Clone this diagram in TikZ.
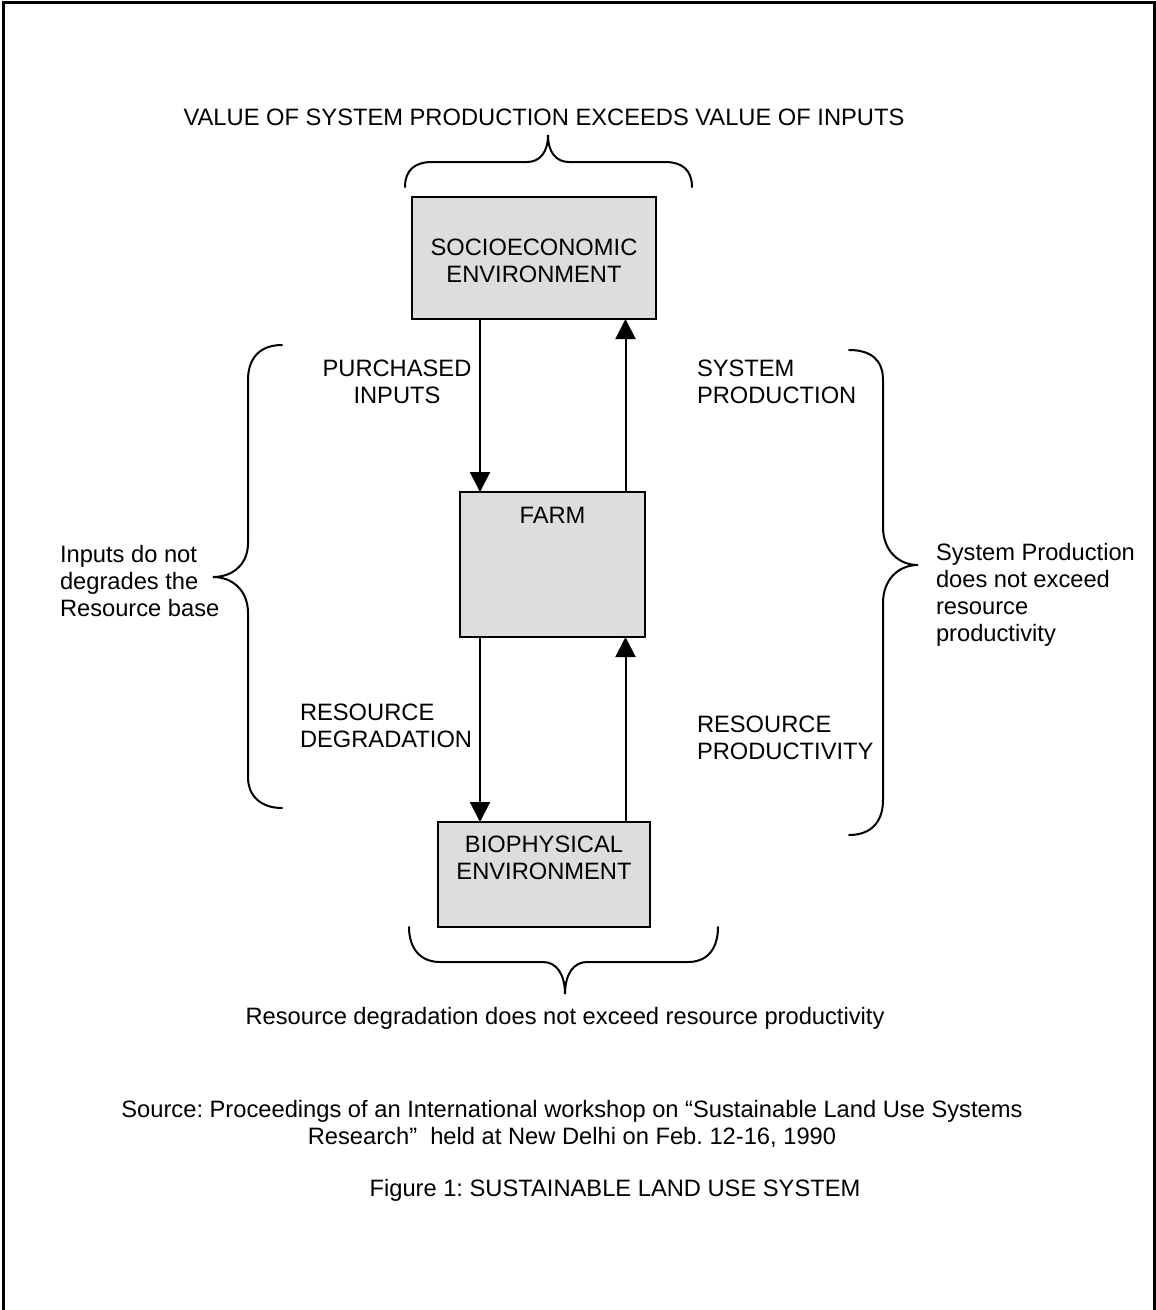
\documentclass[tikz,border=0pt]{standalone}
\usepackage{fontspec}
\setmainfont{Liberation Sans}
\usetikzlibrary{arrows.meta}
\definecolor{boxgray}{RGB}{221,221,221}
\frenchspacing
\begin{document}
\begin{tikzpicture}[x=1pt,y=-1pt,
  every node/.style={font=\fontsize{23.7}{27}\selectfont, inner sep=0pt, outer sep=0pt},
  box/.style={draw, line width=2.5pt, fill=boxgray},
  txt/.style={align=center},
  ltxt/.style={align=left, anchor=west},
  arr/.style={line width=2pt, -{Triangle[length=20pt,width=20pt]}},
  brace/.style={line width=2pt, line cap=round}]
\useasboundingbox (0,0) rectangle (1156,1310);
\fill[white] (0,0) rectangle (1156,1310);
% frame
\draw[line width=3pt] (3,1312) -- (3,2) -- (1154,2) -- (1154,1312);

% boxes
\node[box, minimum width=244pt, minimum height=122pt] (socio) at (534,258) {};
\node[txt] (sociotext) at (534,261) {SOCIOECONOMIC\\ENVIRONMENT};
\node[box, minimum width=185pt, minimum height=145pt] (farm) at (552.5,564.5) {};
\node[txt] (farmtext) at (552.5,515) {FARM};
\node[box, minimum width=212pt, minimum height=105pt] (bio) at (544,874.5) {};
\node[txt] (biotext) at (544,858) {BIOPHYSICAL\\ENVIRONMENT};

% arrow columns
\coordinate (lx) at (480,0);
\coordinate (rx) at (625.5,0);
\draw[arr] (socio.south -| lx) -- (farm.north -| lx);
\draw[arr] (farm.north -| rx) -- (socio.south -| rx);
\draw[arr] (farm.south -| lx) -- (bio.north -| lx);
\draw[arr] (bio.north -| rx) -- (farm.south -| rx);

% labels
\node[txt] (title) at (544,117) {VALUE OF SYSTEM PRODUCTION EXCEEDS VALUE OF INPUTS};
\node[txt] (purch) at (397,381.5) {PURCHASED\\INPUTS};
\node[ltxt] (sysprod) at (697,381.5) {SYSTEM\\PRODUCTION};
\node[ltxt] (resdeg) at (300,725.5) {RESOURCE\\DEGRADATION};
\node[ltxt] (resprod) at (697,737.5) {RESOURCE\\PRODUCTIVITY};
\node[ltxt] (inputs) at (60,581) {Inputs do not\\degrades the\\Resource base};
\node[ltxt] (sysnote) at (936,595) {System Production\\does not exceed\\resource\\productivity};
\node[txt] (degnote) at (565,1018) {Resource degradation does not exceed resource productivity};
\node[txt] (source) at (572,1123.5) {Source: Proceedings of an International workshop on “Sustainable Land Use Systems\\Research”\ \ held at New Delhi on Feb. 12-16, 1990};
\node[txt] (figcap) at (615,1190) {Figure 1: SUSTAINABLE LAND USE SYSTEM};

% braces
\draw[brace] (405,187) .. controls (405,170) and (415,162) .. (432,162) -- (527,162)
  .. controls (540,162) and (548,152) .. (548,135)
  .. controls (548,152) and (556,162) .. (569,162) -- (665,162)
  .. controls (682,162) and (692,170) .. (692,187);
\draw[brace] (409,927) .. controls (409,948) and (420,962) .. (440,962) -- (543,962)
  .. controls (557,962) and (565,975) .. (565,994)
  .. controls (565,975) and (573,962) .. (587,962) -- (688,962)
  .. controls (708,962) and (718,948) .. (718,927);
\draw[brace] (282,345) .. controls (260,345) and (248,358) .. (248,380) -- (248,543)
  .. controls (248,565) and (232,577) .. (213,577)
  .. controls (232,577) and (248,590) .. (248,613) -- (248,777)
  .. controls (248,797) and (262,808) .. (282,808);
\draw[brace] (849,350) .. controls (871,350) and (883,360) .. (883,380) -- (883,527)
  .. controls (883,550) and (898,565) .. (918,565)
  .. controls (898,565) and (883,580) .. (883,603) -- (883,800)
  .. controls (883,822) and (871,835) .. (849,835);
\end{tikzpicture}
\end{document}
